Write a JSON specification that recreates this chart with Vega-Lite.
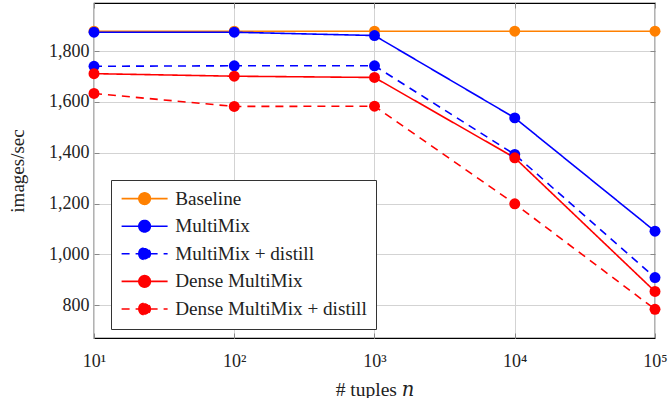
{
  "$schema": "https://vega.github.io/schema/vega-lite/v6.json",
  "width": 561,
  "height": 335,
  "autosize": {"type": "none"},
  "padding": {"left": 94, "top": 3, "right": 14, "bottom": 60},
  "background": "white",
  "config": {
    "font": "Liberation Serif",
    "view": {"stroke": "#000", "strokeWidth": 1.2},
    "axis": {"labelFont": "Liberation Serif", "titleFont": "Liberation Serif", "labelColor": "#222", "titleColor": "#222", "titleFontWeight": "normal", "gridColor": "#d3d3d3", "gridWidth": 1, "domain": false, "tickColor": "#888", "tickWidth": 1}
  },
  "data": {"values": [
    {"series": "Baseline", "n": 10, "v": 1878},
    {"series": "Baseline", "n": 100, "v": 1878},
    {"series": "Baseline", "n": 1000, "v": 1878},
    {"series": "Baseline", "n": 10000, "v": 1878},
    {"series": "Baseline", "n": 100000, "v": 1878},
    {"series": "MultiMix", "n": 10, "v": 1874},
    {"series": "MultiMix", "n": 100, "v": 1874},
    {"series": "MultiMix", "n": 1000, "v": 1861},
    {"series": "MultiMix", "n": 10000, "v": 1537},
    {"series": "MultiMix", "n": 100000, "v": 1091},
    {"series": "MultiMix + distill", "n": 10, "v": 1740},
    {"series": "MultiMix + distill", "n": 100, "v": 1742},
    {"series": "MultiMix + distill", "n": 1000, "v": 1742},
    {"series": "MultiMix + distill", "n": 10000, "v": 1393},
    {"series": "MultiMix + distill", "n": 100000, "v": 909},
    {"series": "Dense MultiMix", "n": 10, "v": 1711},
    {"series": "Dense MultiMix", "n": 100, "v": 1701},
    {"series": "Dense MultiMix", "n": 1000, "v": 1696},
    {"series": "Dense MultiMix", "n": 10000, "v": 1380},
    {"series": "Dense MultiMix", "n": 100000, "v": 854},
    {"series": "Dense MultiMix + distill", "n": 10, "v": 1633},
    {"series": "Dense MultiMix + distill", "n": 100, "v": 1582},
    {"series": "Dense MultiMix + distill", "n": 1000, "v": 1583},
    {"series": "Dense MultiMix + distill", "n": 10000, "v": 1199},
    {"series": "Dense MultiMix + distill", "n": 100000, "v": 784}
  ]},
  "resolve": {"axis": {"x": "independent", "y": "independent"}},
  "layer": [
    {
      "mark": {"type": "line", "strokeWidth": 1.6, "clip": false},
      "encoding": {
        "x": {"field": "n", "type": "quantitative", "scale": {"type": "log", "domain": [10, 100000], "nice": false},
          "axis": {"values": [10, 100, 1000, 10000, 100000], "title": "# tuples 𝑛", "titleFont": "Liberation Serif, DejaVu Serif", "titleFontSize": 19.5, "titlePadding": 10, "labelFont": "Liberation Serif", "labelFontSize": 18, "labelPadding": 19, "labelFlush": false, "labelOverlap": false, "tickSize": -5,
            "labelExpr": "datum.value == 10 ? '10¹' : datum.value == 100 ? '10²' : datum.value == 1000 ? '10³' : datum.value == 10000 ? '10⁴' : '10⁵'"}},
        "y": {"field": "v", "type": "quantitative", "scale": {"domain": [671, 1989], "nice": false, "zero": false},
          "axis": {"values": [800, 1000, 1200, 1400, 1600, 1800], "format": ",d", "title": "images/sec", "titleFont": "Liberation Serif", "titleFontSize": 19, "titlePadding": 21, "labelFont": "Liberation Serif", "labelFontSize": 18, "labelPadding": 10, "tickSize": -5}},
        "color": {"field": "series", "type": "nominal",
          "scale": {"domain": ["Baseline", "MultiMix", "MultiMix + distill", "Dense MultiMix", "Dense MultiMix + distill"], "range": ["#ff8000", "#0000ff", "#0000ff", "#ff0000", "#ff0000"]},
          "legend": {"title": null, "orient": "none", "legendX": 17, "legendY": 177, "padding": 9, "strokeColor": "#333", "fillColor": "white", "labelFont": "Liberation Serif", "labelFontSize": 19.2, "labelColor": "#222", "labelOffset": 36, "labelLimit": 400, "rowPadding": 7.6,
            "symbolType": "M-1,0L4.75,0M1.155,0A0.72,0.72,0,1,0,2.595,0A0.72,0.72,0,1,0,1.155,0Z", "symbolSize": 256, "symbolStrokeWidth": 1.6,
            "encode": {"symbols": {"update": {"fill": {"scale": "color", "field": "value"}, "fillOpacity": {"value": 1}}}}}},
        "strokeDash": {"field": "series", "type": "nominal",
          "scale": {"domain": ["Baseline", "MultiMix", "MultiMix + distill", "Dense MultiMix", "Dense MultiMix + distill"], "range": [[1, 0], [1, 0], [8, 6], [1, 0], [8, 6]]},
          "legend": {"title": null, "orient": "none", "legendX": 17, "legendY": 177, "padding": 9, "strokeColor": "#333", "fillColor": "white", "labelFont": "Liberation Serif", "labelFontSize": 19.2, "labelColor": "#222", "labelOffset": 36, "labelLimit": 400, "rowPadding": 7.6,
            "symbolType": "M-1,0L4.75,0M1.155,0A0.72,0.72,0,1,0,2.595,0A0.72,0.72,0,1,0,1.155,0Z", "symbolSize": 256, "symbolStrokeWidth": 1.6}}
      }
    },
    {
      "mark": {"type": "circle", "size": 120, "opacity": 1, "clip": false},
      "encoding": {
        "x": {"field": "n", "type": "quantitative", "scale": {"type": "log", "domain": [10, 100000], "nice": false},
          "axis": {"orient": "top", "values": [10, 100, 1000, 10000, 100000], "labels": false, "title": null, "grid": false, "tickSize": -5}},
        "y": {"field": "v", "type": "quantitative", "scale": {"domain": [671, 1989], "nice": false, "zero": false},
          "axis": {"orient": "right", "values": [800, 1000, 1200, 1400, 1600, 1800], "labels": false, "title": null, "grid": false, "tickSize": -5}},
        "color": {"field": "series", "type": "nominal", "legend": null,
          "scale": {"domain": ["Baseline", "MultiMix", "MultiMix + distill", "Dense MultiMix", "Dense MultiMix + distill"], "range": ["#ff8000", "#0000ff", "#0000ff", "#ff0000", "#ff0000"]}}
      }
    }
  ]
}
